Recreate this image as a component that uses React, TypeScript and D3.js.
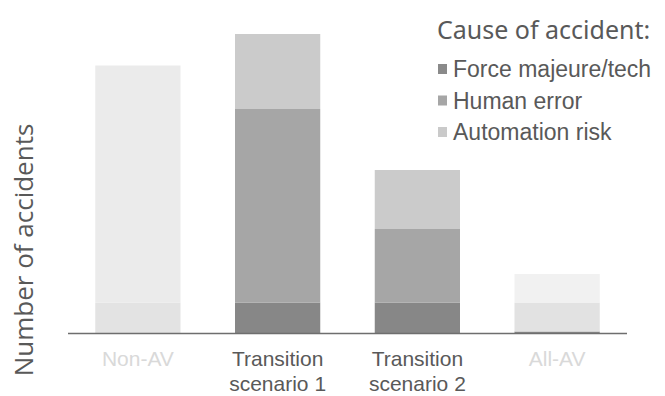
import React from 'react';
import * as d3 from 'd3';

// scenarios along the x axis
const categories = ['Non-AV', 'Transition scenario 1', 'Transition scenario 2', 'All-AV'];
const labelLines = [['Non-AV'], ['Transition', 'scenario 1'], ['Transition', 'scenario 2'], ['All-AV']];
const labelMuted = [true, false, false, true];

// accident counts per cause (arbitrary units)
const forceMajeure = [30.5, 30.5, 30.5, 1.5];
const humanError = [237, 193.5, 73.5, 29];
const automationRisk = [0, 75, 59, 28.5];

const keys = ['force', 'human', 'automation'];
const legendLabels = ['Force majeure/tech', 'Human error', 'Automation risk'];
const colors = ['#878787', '#a6a6a6', '#cbcbcb'];
const legendColors = ['#8a8a8a', '#a6a6a6', '#cacaca'];
// faded segments on the reference bars (null = normal colour)
const fadedFill = [
  ['#e3e3e3', '#ebebeb', null],
  [null, null, null],
  [null, null, null],
  [null, '#e2e2e2', '#f1f1f1'],
];

const W = 665;
const H = 396;

export default function App() {
  const rows = categories.map((c, i) => ({
    cat: c,
    force: forceMajeure[i],
    human: humanError[i],
    automation: automationRisk[i],
  }));
  const series = d3.stack().keys(keys)(rows as any);

  const x = d3.scaleBand().domain(categories).range([68, 627]).paddingInner(0.39).paddingOuter(0.195);
  const y = d3.scaleLinear().domain([0, 300]).range([333, 33]);

  const narrow = '"Liberation Sans Narrow", "Arial Narrow", "Liberation Sans", sans-serif';

  return (
    <svg width={W} height={H} style={{ position: 'absolute', left: 0, top: 0, background: '#fff' }}>
      {series.map((s, si) =>
        s.map((d, ci) => {
          const h = y(d[0]) - y(d[1]);
          if (h <= 0) return null;
          const fill = fadedFill[ci][si] || colors[si];
          return (
            <rect
              key={`${si}-${ci}`}
              x={x(categories[ci])}
              y={y(d[1])}
              width={x.bandwidth()}
              height={h}
              fill={fill}
            />
          );
        })
      )}
      <line x1={68} x2={627} y1={y(0) + 0.5} y2={y(0) + 0.5} stroke="#6e6e6e" strokeWidth={1.5} />

      {labelLines.map((lines, i) => (
        <text
          key={i}
          x={(x(categories[i]) as number) + x.bandwidth() / 2}
          y={366}
          textAnchor="middle"
          fontFamily={narrow}
          fontSize={21}
          fill={labelMuted[i] ? '#d9d9d9' : '#595959'}
        >
          {lines.map((l, j) => (
            <tspan key={j} x={(x(categories[i]) as number) + x.bandwidth() / 2} dy={j === 0 ? 0 : 25}>
              {l}
            </tspan>
          ))}
        </text>
      ))}

      <text
        transform="translate(33,250) rotate(-90)"
        textAnchor="middle"
        fontFamily='"Open Sans", sans-serif'
        fontSize={26}
        fill="#595959"
      >
        Number of accidents
      </text>

      <text x={437} y={39} fontFamily='"Noto Sans", sans-serif' fontSize={25} fill="#595959">
        Cause of accident:
      </text>
      {legendLabels.map((l, i) => (
        <g key={l} transform={`translate(438,${64 + i * 31.5})`}>
          <rect x={0} y={0} width={9} height={10} fill={legendColors[i]} />
          <text x={15} y={13} fontFamily={narrow} fontSize={23} fill="#595959">
            {l}
          </text>
        </g>
      ))}
    </svg>
  );
}
